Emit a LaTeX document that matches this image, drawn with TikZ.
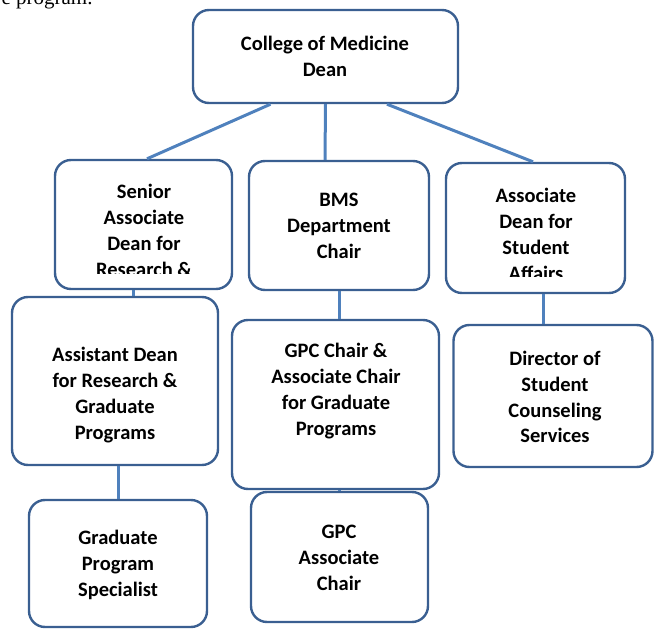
\documentclass[tikz,border=0pt]{standalone}
\usepackage{fontspec}
\setmainfont{Carlito}
\newfontfamily\serifa{Liberation Serif}
\definecolor{boxblue}{RGB}{58,95,145}
\definecolor{linkblue}{RGB}{79,129,189}
\tikzset{
  box/.style={draw=boxblue, line width=2.4pt, rounded corners=16pt, fill=white},
  txt/.style={align=center, font=\bfseries\fontsize{20.5}{25.8}\selectfont},
  link/.style={draw=linkblue, line width=3pt}
}
\begin{document}
\begin{tikzpicture}[x=1pt,y=-1pt, line join=round]
\useasboundingbox (0,0) rectangle (654,629);
\node[anchor=base west, font=\serifa\fontsize{21}{24}\selectfont] (prev) at (-2,5) {e program.};
% boxes
\node[box, minimum width=265pt, minimum height=93pt] (dean) at (325.5,56.5) {};
\node[box, minimum width=177pt, minimum height=129pt] (senior) at (143.5,224.5) {};
\node[box, minimum width=180pt, minimum height=129pt] (bms) at (339,225.5) {};
\node[box, minimum width=179pt, minimum height=130pt] (assoc) at (535.5,228) {};
\node[box, minimum width=206pt, minimum height=168pt] (asst) at (115,381) {};
\node[box, minimum width=207pt, minimum height=169pt] (gpc) at (335.5,404.5) {};
\node[box, minimum width=199pt, minimum height=142pt] (dir) at (553,396) {};
\node[box, minimum width=178pt, minimum height=127pt] (spec) at (118,563.5) {};
\node[box, minimum width=177pt, minimum height=130pt] (gpcassoc) at (339.5,557) {};
% texts
\node[txt] (deanT) at (325,56.5) {College of Medicine\\Dean};
\begin{scope}
  \clip (56,165) rectangle (231,273.3);
  \node[txt] (seniorT) at (144,230.5) {Senior\\Associate\\Dean for\\Research \&};
\end{scope}
\node[txt] (bmsT) at (339,226) {BMS\\Department\\Chair};
\begin{scope}
  \clip (447,168) rectangle (624,276.7);
  \node[txt] (assocT) at (536,234.3) {Associate\\Dean for\\Student\\Affairs};
\end{scope}
\node[txt] (asstT) at (115,395) {Assistant Dean\\for Research \&\\Graduate\\Programs};
\node[txt] (gpcT) at (336,391) {GPC Chair \&\\Associate Chair\\for Graduate\\Programs};
\node[txt] (dirT) at (555,397) {Director of\\Student\\Counseling\\Services};
\node[txt] (specT) at (118,565) {Graduate\\Program\\Specialist};
\node[txt] (gpcassocT) at (339,558) {GPC\\Associate\\Chair};
% connectors
\draw[link] ([xshift=-55pt]dean.south) -- ([xshift=3.5pt]senior.north);
\draw[link] (dean.south) -- ([xshift=-14pt]bms.north);
\draw[link] ([xshift=61.5pt]dean.south) -- ([xshift=-2.5pt]assoc.north);
\draw[link] ([xshift=-10.5pt]senior.south) -- ([xshift=-10.5pt]senior.south |- asst.north);
\draw[link] (bms.south) -- (bms.south |- gpc.north);
\draw[link] ([xshift=7.5pt]assoc.south) -- ([xshift=7.5pt]assoc.south |- dir.north);
\draw[link] (spec.north) -- (spec.north |- asst.south);
\draw[link] (gpcassoc.north) -- (gpcassoc.north |- gpc.south);
\end{tikzpicture}
\end{document}
